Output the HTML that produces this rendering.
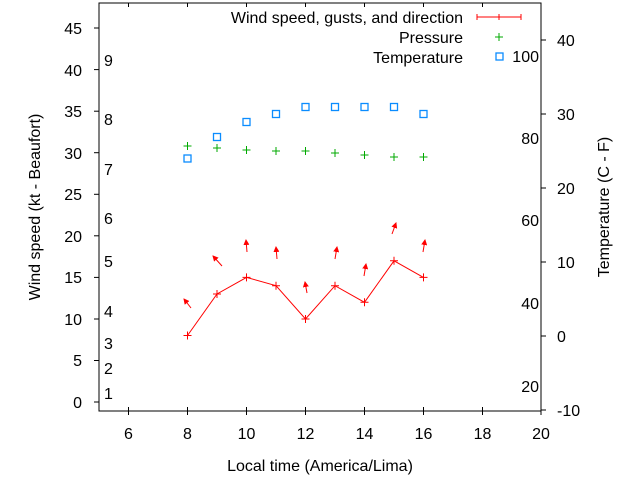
<!DOCTYPE html>
<html><head><style>body{margin:0;background:#fff}svg{display:block;font-family:"Liberation Sans",sans-serif;font-size:16px}</style></head><body>
<svg width="640" height="480" xmlns="http://www.w3.org/2000/svg">
<defs><marker id="ah" markerWidth="6" markerHeight="6" refX="5" refY="3" orient="auto" markerUnits="userSpaceOnUse"><path d="M0,0 L6,3 L0,6 z" fill="red"/></marker></defs>
<rect x="99" y="3" width="442" height="408" fill="none" stroke="#000" stroke-width="1"/>
<g stroke="#000">
<line x1="94" y1="402" x2="99" y2="402"/><line x1="94" y1="360.5" x2="99" y2="360.5"/><line x1="94" y1="319" x2="99" y2="319"/><line x1="94" y1="277.4" x2="99" y2="277.4"/><line x1="94" y1="235.8" x2="99" y2="235.8"/><line x1="94" y1="194.3" x2="99" y2="194.3"/><line x1="94" y1="152.7" x2="99" y2="152.7"/><line x1="94" y1="111.2" x2="99" y2="111.2"/><line x1="94" y1="69.6" x2="99" y2="69.6"/><line x1="94" y1="28" x2="99" y2="28"/>
<line x1="541" y1="410" x2="546" y2="410"/><line x1="541" y1="336" x2="546" y2="336"/><line x1="541" y1="262" x2="546" y2="262"/><line x1="541" y1="188" x2="546" y2="188"/><line x1="541" y1="114" x2="546" y2="114"/><line x1="541" y1="40" x2="546" y2="40"/>
<line x1="128.5" y1="407" x2="128.5" y2="415"/><line x1="187.5" y1="407" x2="187.5" y2="415"/><line x1="246.5" y1="407" x2="246.5" y2="415"/><line x1="305.5" y1="407" x2="305.5" y2="415"/><line x1="364.5" y1="407" x2="364.5" y2="415"/><line x1="423.5" y1="407" x2="423.5" y2="415"/><line x1="482.5" y1="407" x2="482.5" y2="415"/><line x1="541" y1="407" x2="541" y2="415"/>
<line x1="128.5" y1="3" x2="128.5" y2="7"/><line x1="187.5" y1="3" x2="187.5" y2="7"/><line x1="246.5" y1="3" x2="246.5" y2="7"/><line x1="305.5" y1="3" x2="305.5" y2="7"/><line x1="364.5" y1="3" x2="364.5" y2="7"/><line x1="423.5" y1="3" x2="423.5" y2="7"/><line x1="482.5" y1="3" x2="482.5" y2="7"/>
</g>
<g text-anchor="end" fill="#000">
<text x="82" y="408">0</text><text x="82" y="366">5</text><text x="82" y="325">10</text><text x="82" y="283">15</text><text x="82" y="242">20</text><text x="82" y="200">25</text><text x="82" y="159">30</text><text x="82" y="117">35</text><text x="82" y="76">40</text><text x="82" y="34">45</text>
</g>
<g fill="#000">
<text x="557" y="416">-10</text><text x="557" y="342">0</text><text x="557" y="268">10</text><text x="557" y="194">20</text><text x="557" y="120">30</text><text x="557" y="46">40</text>
<text x="104" y="399">1</text><text x="104" y="374">2</text><text x="104" y="349">3</text><text x="104" y="317">4</text><text x="104" y="267">5</text><text x="104" y="224">6</text><text x="104" y="175">7</text><text x="104" y="125">8</text><text x="104" y="66">9</text>
</g>
<g text-anchor="end"><text x="539" y="62">100</text><text x="539" y="144">80</text><text x="539" y="226">60</text><text x="539" y="309">40</text><text x="539" y="392">20</text></g>
<g text-anchor="middle">
<text x="128.5" y="439">6</text><text x="187.5" y="439">8</text><text x="246.5" y="439">10</text><text x="305.5" y="439">12</text><text x="364.5" y="439">14</text><text x="423.5" y="439">16</text><text x="482.5" y="439">18</text><text x="541" y="439">20</text>
<text x="320" y="471">Local time (America/Lima)</text>
<text transform="translate(40,207) rotate(-90)">Wind speed (kt - Beaufort)</text>
<text transform="translate(609,207) rotate(-90)">Temperature (C - F)</text>
</g>
<g text-anchor="end"><text x="463" y="23">Wind speed, gusts, and direction</text><text x="463" y="43">Pressure</text><text x="463" y="63">Temperature</text></g>
<g stroke="red" fill="none"><line x1="477" y1="17" x2="521" y2="17"/><line x1="477" y1="14" x2="477" y2="20"/><line x1="521" y1="14" x2="521" y2="20"/><line x1="499" y1="14" x2="499" y2="20"/></g>
<g stroke="#0a0"><line x1="495" y1="37" x2="503" y2="37"/><line x1="499" y1="33" x2="499" y2="41"/></g>
<rect x="496" y="53" width="7" height="7" fill="none" stroke="#0a8cff" stroke-width="1.3"/>
<polyline fill="none" stroke="red" points="187.5,335.5 217,294 246.5,277.4 276,285.7 305.5,319 335,285.7 364.5,302.3 394,260.8 423.5,277.4"/>
<g stroke="red">
<path d="M183.5,335.5h8M187.5,331.5v8M213,294h8M217,290v8M242.5,277.4h8M246.5,273.4v8M272,285.7h8M276,281.7v8M301.5,319h8M305.5,315v8M331,285.7h8M335,281.7v8M360.5,302.3h8M364.5,298.3v8M390,260.8h8M394,256.8v8M419.5,277.4h8M423.5,273.4v8"/>
</g>
<g stroke="red" stroke-width="1" marker-end="url(#ah)">
<line x1="191" y1="308" x2="184" y2="299"/><line x1="222" y1="266" x2="213" y2="256"/><line x1="247" y1="252" x2="246" y2="240"/><line x1="277" y1="259" x2="276" y2="247"/><line x1="307" y1="293" x2="305" y2="282"/><line x1="335" y1="259" x2="337" y2="247"/><line x1="364" y1="276" x2="366" y2="264"/><line x1="392" y1="234" x2="396" y2="223"/><line x1="423" y1="252" x2="425" y2="240"/>
</g>
<path stroke="#0a0" d="M183.5,146h8M187.5,142v8M213,148h8M217,144v8M242.5,150h8M246.5,146v8M272,151h8M276,147v8M301.5,151h8M305.5,147v8M331,153h8M335,149v8M360.5,155h8M364.5,151v8M390,157h8M394,153v8M419.5,157h8M423.5,153v8"/>
<g fill="none" stroke="#0a8cff" stroke-width="1.3">
<rect x="184" y="155" width="7" height="7"/><rect x="213.5" y="133.5" width="7" height="7"/><rect x="243" y="118.5" width="7" height="7"/><rect x="272.5" y="110.5" width="7" height="7"/><rect x="302" y="103.5" width="7" height="7"/><rect x="331.5" y="103.5" width="7" height="7"/><rect x="361" y="103.5" width="7" height="7"/><rect x="390.5" y="103.5" width="7" height="7"/><rect x="420" y="110.5" width="7" height="7"/>
</g>
</svg>
</body></html>
